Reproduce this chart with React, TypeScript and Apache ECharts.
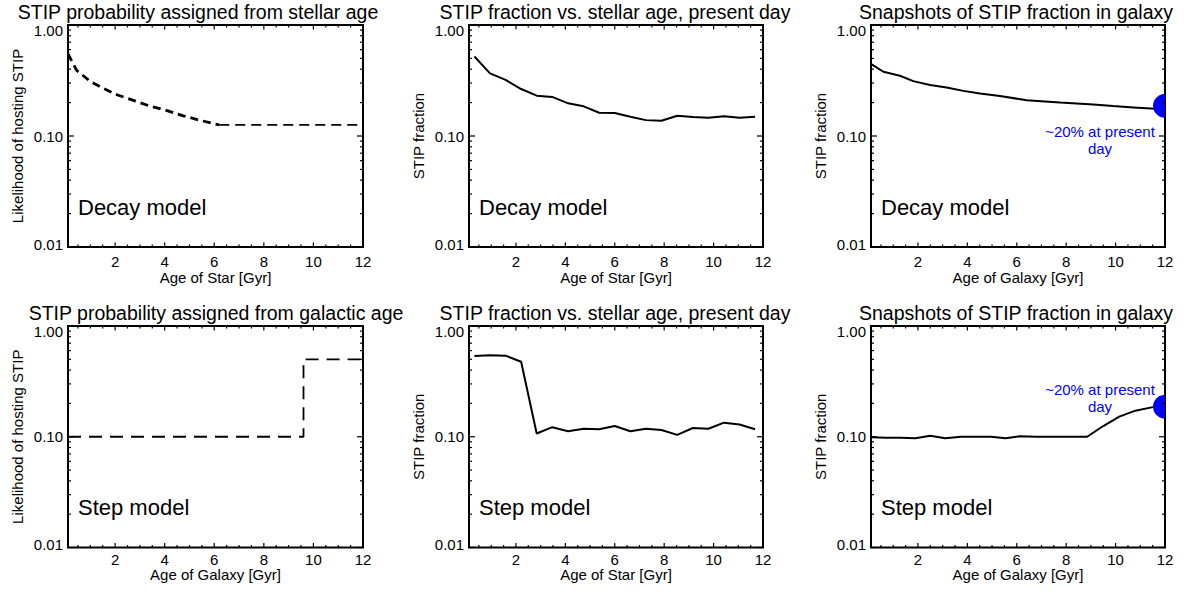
import React, { useEffect, useRef } from "react";
import * as echarts from "echarts";

const FONT = "'Liberation Sans', Arial, Helvetica, sans-serif";

// ---------- data ----------
// Panel 1: decay model, probability assigned from stellar age
const decayProbCurveAge = [0.1, 0.45, 1.0, 1.5, 2.1, 2.8, 3.4, 4.1, 4.75, 5.4, 6.05, 6.2];
const decayProbCurveVal = [0.55, 0.39, 0.31, 0.27, 0.234, 0.207, 0.186, 0.169, 0.152, 0.139, 0.128, 0.126];
const decayProbFlatAge = [6.2, 12];
const decayProbFlatVal = [0.126, 0.126];

// Panel 2 & 5: STIP fraction vs stellar age, present day
const starAge = [0.32, 0.95, 1.58, 2.21, 2.84, 3.47, 4.11, 4.74, 5.37, 6.0, 6.63, 7.26, 7.89, 8.53, 9.16, 9.79, 10.42, 11.05, 11.68];
const decayFraction = [0.52, 0.367, 0.32, 0.265, 0.231, 0.225, 0.197, 0.185, 0.162, 0.161, 0.149, 0.139, 0.137, 0.152, 0.148, 0.146, 0.151, 0.146, 0.149];
const stepFraction = [0.536, 0.543, 0.54, 0.476, 0.107, 0.122, 0.112, 0.118, 0.117, 0.125, 0.112, 0.118, 0.115, 0.104, 0.12, 0.118, 0.134, 0.129, 0.117];

// Panel 3: snapshots of STIP fraction in galaxy, decay model
const galaxyAgeDecay = [0.13, 0.6, 1.27, 1.81, 2.49, 3.16, 3.84, 4.51, 5.32, 6.4, 7.75, 9.1, 9.9, 10.72, 11.6];
const galaxyFracDecay = [0.442, 0.379, 0.349, 0.312, 0.288, 0.274, 0.255, 0.242, 0.229, 0.21, 0.2, 0.192, 0.186, 0.181, 0.176];

// Panel 4: step model, probability assigned from galactic age
const stepProbAge = [0.1, 9.6, 9.6, 12];
const stepProbVal = [0.1, 0.1, 0.5, 0.5];

// Panel 6: snapshots of STIP fraction in galaxy, step model
const galaxyAgeStep = [0.13, 0.7, 1.3, 1.9, 2.5, 3.1, 3.75, 4.35, 4.95, 5.55, 6.15, 6.75, 7.35, 7.95, 8.85, 9.5, 10.15, 10.8, 11.6];
const galaxyFracStep = [0.099, 0.098, 0.098, 0.097, 0.102, 0.097, 0.1, 0.1, 0.1, 0.097, 0.101, 0.1, 0.1, 0.1, 0.1, 0.125, 0.152, 0.172, 0.187];

// Present-day marker
const presentAge = 12;
const presentFraction = 0.187;

// Ticks
const xLabelValues = [2, 4, 6, 8, 10, 12];
const xMinorTicks = [0.5, 1, 1.5, 2.5, 3, 3.5, 4.5, 5, 5.5, 6.5, 7, 7.5, 8.5, 9, 9.5, 10.5, 11, 11.5];
const yMajorTicks = [0.01, 0.1, 1];
const yMinorTicks = [0.02, 0.03, 0.04, 0.05, 0.06, 0.07, 0.08, 0.09, 0.2, 0.3, 0.4, 0.5, 0.6, 0.7, 0.8, 0.9];

const titles = [
  "STIP probability assigned from stellar age",
  "STIP fraction vs. stellar age, present day",
  "Snapshots of STIP fraction in galaxy",
  "STIP probability assigned from galactic age",
  "STIP fraction vs. stellar age, present day",
  "Snapshots of STIP fraction in galaxy",
];
const xNames = ["Age of Star [Gyr]", "Age of Star [Gyr]", "Age of Galaxy [Gyr]", "Age of Galaxy [Gyr]", "Age of Star [Gyr]", "Age of Galaxy [Gyr]"];
const yNames = ["Likelihood of hosting STIP", "STIP fraction", "STIP fraction", "Likelihood of hosting STIP", "STIP fraction", "STIP fraction"];
const modelNames = ["Decay model", "Decay model", "Decay model", "Step model", "Step model", "Step model"];
const presentText = "~20% at present\nday";

// ---------- layout ----------
const GRIDS = [
  { left: 68, top: 25, width: 295, height: 222 },
  { left: 469, top: 25, width: 294, height: 222 },
  { left: 871, top: 25, width: 294, height: 222 },
  { left: 68, top: 326, width: 295, height: 221.5 },
  { left: 469, top: 326, width: 294, height: 221.5 },
  { left: 871, top: 326, width: 294, height: 221.5 },
];
const TITLE_POS = [
  [198, 11.7], [615, 11.7], [1016, 11.7],
  [216, 313.3], [615, 313.3], [1016, 313.3],
];
const X_MIN = 0.1;
const X_MAX = 12;

const zip = (a: number[], b: number[]) => a.map((v, i) => [v, b[i]]);

function tickSeries(i: number) {
  return {
    type: "custom",
    xAxisIndex: i,
    yAxisIndex: i,
    silent: true,
    clip: false,
    z: 5,
    data: [[X_MIN, 0.01]],
    renderItem: (params: any, api: any) => {
      const cs = params.coordSys;
      const top = cs.y;
      const bottom = cs.y + cs.height;
      const left = cs.x;
      const right = cs.x + cs.width;
      const style = { stroke: "#000", lineWidth: 1.2 };
      const children: any[] = [];
      const addX = (v: number, len: number) => {
        const px = api.coord([v, 0.1])[0];
        children.push({ type: "line", shape: { x1: px, y1: bottom, x2: px, y2: bottom - len }, style });
        children.push({ type: "line", shape: { x1: px, y1: top, x2: px, y2: top + len }, style });
      };
      const addY = (v: number, len: number) => {
        const py = api.coord([1, v])[1];
        children.push({ type: "line", shape: { x1: left, y1: py, x2: left + len, y2: py }, style });
        children.push({ type: "line", shape: { x1: right, y1: py, x2: right - len, y2: py }, style });
      };
      xLabelValues.forEach((v) => addX(v, 4.5));
      xMinorTicks.forEach((v) => addX(v, 2.5));
      yMajorTicks.forEach((v) => addY(v, 6));
      yMinorTicks.forEach((v) => addY(v, 3));
      return { type: "group", children };
    },
  };
}

function lineSeries(i: number, data: number[][], dash?: any, width = 2) {
  return {
    type: "line",
    xAxisIndex: i,
    yAxisIndex: i,
    data,
    symbol: "none",
    showSymbol: false,
    silent: true,
    clip: true,
    lineStyle: { color: "#000", width, type: dash || "solid" },
    z: 3,
  };
}

function dotSeries(i: number) {
  return {
    type: "custom",
    xAxisIndex: i,
    yAxisIndex: i,
    silent: true,
    clip: true,
    z: 4,
    data: [[presentAge, presentFraction]],
    renderItem: (params: any, api: any) => {
      const p = api.coord([api.value(0), api.value(1)]);
      return { type: "circle", shape: { cx: p[0], cy: p[1], r: 12 }, style: { fill: "#0000ff" } };
    },
  };
}

const labelText = { fontFamily: FONT, fontSize: 15, color: "#000" };

export default function App() {
  const ref = useRef<HTMLDivElement>(null);

  useEffect(() => {
    if (!ref.current) return;
    const chart = echarts.init(ref.current, undefined, { renderer: "svg" });

    const grid = GRIDS.map((g) => ({
      ...g,
      show: true,
      borderColor: "#000",
      borderWidth: 2,
      backgroundColor: "transparent",
    }));

    const xAxis = GRIDS.map((_, i) => {
      const row = i < 3 ? 0 : 1;
      return {
        type: "value",
        gridIndex: i,
        min: X_MIN,
        max: X_MAX,
        position: "bottom",
        name: xNames[i],
        nameLocation: "middle",
        nameGap: row === 0 ? 23 : 17,
        nameTextStyle: { ...labelText },
        axisLine: { show: false },
        axisTick: { show: false },
        splitLine: { show: false },
        axisLabel: {
          customValues: xLabelValues,
          ...labelText,
          margin: row === 0 ? 7 : 4,
          formatter: (v: number) => String(Math.round(v)),
        },
      };
    });

    const yAxis = GRIDS.map((_, i) => ({
      type: "log",
      logBase: 10,
      gridIndex: i,
      min: 0.01,
      max: 1,
      name: yNames[i],
      nameLocation: "middle",
      nameRotate: 90,
      nameGap: 43,
      nameTextStyle: { ...labelText },
      axisLine: { show: false },
      axisTick: { show: false },
      splitLine: { show: false },
      axisLabel: {
        ...labelText,
        margin: 5,
        formatter: (v: number) => {
          const s = Number(v).toFixed(2);
          if (Number(v) > 0.5) return "{mx|" + s + "}";
          if (Number(v) < 0.05) return "{mn|" + s + "}";
          return s;
        },
        rich: {
          mx: { ...labelText, padding: [10, 0, 0, 0] },
          mn: { ...labelText, padding: [0, 0, 6, 0] },
        },
      },
    }));

    const series: any[] = [
      lineSeries(0, zip(decayProbCurveAge, decayProbCurveVal), [8, 5], 2.8),
      lineSeries(0, zip(decayProbFlatAge, decayProbFlatVal), [10, 6], 1.8),
      lineSeries(1, zip(starAge, decayFraction)),
      lineSeries(2, zip(galaxyAgeDecay, galaxyFracDecay)),
      dotSeries(2),
      lineSeries(3, zip(stepProbAge, stepProbVal), [13, 8], 1.8),
      lineSeries(4, zip(starAge, stepFraction)),
      lineSeries(5, zip(galaxyAgeStep, galaxyFracStep)),
      dotSeries(5),
    ];
    GRIDS.forEach((_, i) => series.push(tickSeries(i)));

    const graphic: any[] = [];
    titles.forEach((t, i) => {
      graphic.push({
        type: "text",
        x: TITLE_POS[i][0],
        y: TITLE_POS[i][1],
        silent: true,
        style: { text: t, fontFamily: FONT, fontSize: 19.5, fill: "#000", align: "center", verticalAlign: "middle" },
      });
    });
    modelNames.forEach((t, i) => {
      graphic.push({
        type: "text",
        x: GRIDS[i].left + 10,
        y: i < 3 ? 207.5 : 507.5,
        silent: true,
        style: { text: t, fontFamily: FONT, fontSize: 22, fill: "#000", align: "left", verticalAlign: "middle" },
      });
    });
    [139.5, 398.2].forEach((y) => {
      graphic.push({
        type: "text",
        x: 1100,
        y,
        silent: true,
        style: {
          text: presentText,
          fontFamily: FONT,
          fontSize: 15,
          lineHeight: 17,
          fill: "#0000ff",
          align: "center",
          verticalAlign: "middle",
        },
      });
    });

    chart.setOption({
      animation: false,
      backgroundColor: "#fff",
      grid,
      xAxis,
      yAxis,
      series,
      graphic,
    });

    return () => chart.dispose();
  }, []);

  return (
    <div
      ref={ref}
      style={{ position: "absolute", left: 0, top: 0, width: 1184, height: 593 }}
    />
  );
}
